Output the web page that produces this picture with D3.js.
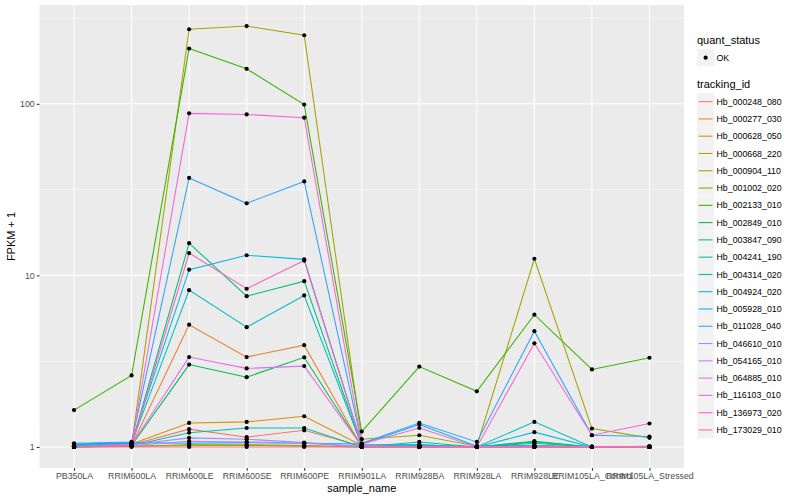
<!DOCTYPE html>
<html>
<head>
<meta charset="utf-8">
<script src="https://cdn.jsdelivr.net/npm/d3@7"></script>
<style>
  body { margin: 0; background: #fff; }
  svg { display: block; font-family: "Liberation Sans", Arial, Helvetica, sans-serif; }
</style>
</head>
<body>
<svg id="chart" width="800" height="500"></svg>
<script>
// ---------------- data ----------------
const samples = ["PB350LA","RRIM600LA","RRIM600LE","RRIM600SE","RRIM600PE","RRIM901LA",
                 "RRIM928BA","RRIM928LA","RRIM928LE","RRIM105LA_Control","RRIM105LA_Stressed"];

const trackingIds = ["Hb_000248_080","Hb_000277_030","Hb_000628_050","Hb_000668_220","Hb_000904_110",
                     "Hb_001002_020","Hb_002133_010","Hb_002849_010","Hb_003847_090","Hb_004241_190",
                     "Hb_004314_020","Hb_004924_020","Hb_005928_010","Hb_011028_040","Hb_046610_010",
                     "Hb_054165_010","Hb_064885_010","Hb_116103_010","Hb_136973_020","Hb_173029_010"];

const seriesColors = ["#F8766D","#EA8331","#D89000","#C09B00","#A3A500","#7CAE00","#39B600","#00BB4E",
                      "#00BF7D","#00C1A3","#00BFC4","#00BAE0","#00B0F6","#35A2FF","#9590FF","#C77CFF",
                      "#E76BF3","#FA62DB","#FF62BC","#FF6C91"];

// FPKM + 1 values, one row per tracking_id, one column per sample
const v000248_080 = [1.01, 1.03, 1.27, 1.14, 1.25, 1.01, 1.01, 1.00, 1.01, 1.00, 1.00];
const v000277_030 = [1.00, 1.02, 5.16, 3.34, 3.92, 1.00, 1.00, 1.00, 1.00, 1.00, 1.00];
const v000628_050 = [1.01, 1.04, 1.38, 1.40, 1.51, 1.02, 1.02, 1.00, 1.02, 1.00, 1.00];
const v000668_220 = [1.00, 1.01, 1.02, 1.02, 1.01, 1.00, 1.00, 1.00, 1.00, 1.00, 1.00];
const v000904_110 = [1.00, 1.02, 272, 284, 251, 1.11, 1.17, 1.01, 12.5, 1.28, 1.13];
const v001002_020 = [1.00, 1.01, 1.03, 1.03, 1.02, 1.00, 1.00, 1.00, 1.00, 1.00, 1.00];
const v002133_010 = [1.64, 2.61, 210, 160, 99, 1.23, 2.94, 2.11, 5.9, 2.83, 3.31];
const v002849_010 = [1.00, 1.02, 3.02, 2.55, 3.33, 1.00, 1.01, 1.00, 1.08, 1.00, 1.00];
const v003847_090 = [1.00, 1.03, 15.4, 7.57, 9.25, 1.01, 1.02, 1.00, 1.07, 1.00, 1.00];
const v004241_190 = [1.01, 1.02, 1.21, 1.29, 1.29, 1.00, 1.07, 1.00, 1.05, 1.00, 1.00];
const v004314_020 = [1.02, 1.05, 8.2, 4.99, 7.64, 1.02, 1.03, 1.00, 1.40, 1.00, 1.00];
const v004924_020 = [1.03, 1.06, 10.8, 13.1, 12.4, 1.03, 1.03, 1.00, 1.22, 1.00, 1.00];
const v005928_010 = [1.04, 1.06, 1.05, 1.06, 1.05, 1.04, 1.35, 1.01, 1.02, 1.00, 1.01];
const v011028_040 = [1.05, 1.07, 37, 26.3, 35.3, 1.05, 1.38, 1.07, 4.73, 1.17, 1.15];
const v046610_010 = [1.00, 1.03, 1.13, 1.11, 1.06, 1.01, 1.01, 1.00, 1.01, 1.00, 1.00];
const v054165_010 = [1.00, 1.02, 1.08, 1.07, 1.05, 1.00, 1.00, 1.00, 1.00, 1.00, 1.00];
const v064885_010 = [1.00, 1.03, 3.34, 2.87, 2.96, 1.01, 1.00, 1.00, 1.00, 1.00, 1.00];
const v116103_010 = [1.00, 1.03, 88, 86.7, 83, 1.04, 1.29, 1.00, 4.02, 1.17, 1.37];
const v136973_020 = [1.00, 1.02, 13.5, 8.36, 12.2, 1.02, 1.00, 1.00, 1.00, 1.00, 1.00];
const v173029_010 = [1.00, 1.00, 1.00, 1.00, 1.00, 1.00, 1.00, 1.00, 1.00, 1.00, 1.00];

const seriesValues = [v000248_080, v000277_030, v000628_050, v000668_220, v000904_110,
                      v001002_020, v002133_010, v002849_010, v003847_090, v004241_190,
                      v004314_020, v004924_020, v005928_010, v011028_040, v046610_010,
                      v054165_010, v064885_010, v116103_010, v136973_020, v173029_010];

const yTicks = [1, 10, 100];
const yTickLabels = ["1", "10", "100"];
const yMinor = [Math.pow(10, 0.5), Math.pow(10, 1.5), Math.pow(10, 2.5)];
const statusLabels = ["OK"];

// ---------------- layout ----------------
const panel = { left: 39.5, right: 684, top: 5, bottom: 468 };
const svg = d3.select("#chart");

const series = trackingIds.map((id, i) => ({
  id, color: seriesColors[i],
  points: samples.map((s, j) => ({ sample: s, value: seriesValues[i][j] }))
}));

const allVals = seriesValues.flat();
const lmin = Math.log10(d3.min(allVals)), lmax = Math.log10(d3.max(allVals));
const ext = (lmax - lmin) * 0.05;

const x = d3.scalePoint().domain(samples).range([panel.left, panel.right]).padding(0.6);
const y = d3.scaleLog().domain([Math.pow(10, lmin - ext), Math.pow(10, lmax + ext)])
  .range([panel.bottom, panel.top]);

// panel background
svg.append("rect").attr("x", panel.left).attr("y", panel.top)
  .attr("width", panel.right - panel.left).attr("height", panel.bottom - panel.top)
  .attr("fill", "#EBEBEB");

// grid
const grid = svg.append("g");
grid.selectAll(".ymin").data(yMinor.filter(v => y(v) >= panel.top)).enter().append("line")
  .attr("x1", panel.left).attr("x2", panel.right)
  .attr("y1", d => y(d)).attr("y2", d => y(d))
  .attr("stroke", "#fff").attr("stroke-width", 0.53);
grid.selectAll(".ymaj").data(yTicks).enter().append("line")
  .attr("x1", panel.left).attr("x2", panel.right)
  .attr("y1", d => y(d)).attr("y2", d => y(d))
  .attr("stroke", "#fff").attr("stroke-width", 1.07);
grid.selectAll(".xmaj").data(samples).enter().append("line")
  .attr("y1", panel.top).attr("y2", panel.bottom)
  .attr("x1", d => x(d)).attr("x2", d => x(d))
  .attr("stroke", "#fff").attr("stroke-width", 1.07);

// lines
const line = d3.line().x(d => x(d.sample)).y(d => y(d.value));
svg.append("g").selectAll("path").data(series).enter().append("path")
  .attr("d", d => line(d.points))
  .attr("fill", "none").attr("stroke", d => d.color).attr("stroke-width", 1.07);

// points
const pts = series.flatMap(s => s.points);
svg.append("g").selectAll("circle").data(pts).enter().append("circle")
  .attr("cx", d => x(d.sample)).attr("cy", d => y(d.value)).attr("r", 2.1)
  .attr("fill", "#000");

// axes
const yAxis = d3.axisLeft(y).tickValues(yTicks).tickFormat((d, i) => yTickLabels[i])
  .tickSize(2.74).tickPadding(2);
const gy = svg.append("g").attr("transform", `translate(${panel.left},0)`).call(yAxis);
gy.select(".domain").remove();
gy.selectAll(".tick line").attr("stroke", "#333").attr("stroke-width", 1.07);
gy.selectAll(".tick text").attr("fill", "#4D4D4D").style("font-size", "8.8px")
  .style("font-family", "'Liberation Sans', Arial, sans-serif");

const xAxis = d3.axisBottom(x).tickSize(2.74).tickPadding(2);
const gx = svg.append("g").attr("transform", `translate(0,${panel.bottom})`).call(xAxis);
gx.select(".domain").remove();
gx.selectAll(".tick line").attr("stroke", "#333").attr("stroke-width", 1.07);
gx.selectAll(".tick text").attr("fill", "#4D4D4D").style("font-size", "8.8px")
  .style("font-family", "'Liberation Sans', Arial, sans-serif");

// axis titles
svg.append("text").attr("x", (panel.left + panel.right) / 2).attr("y", 492)
  .attr("text-anchor", "middle").style("font-size", "11px").attr("fill", "#000")
  .text("sample_name");
svg.append("text").attr("transform", `translate(15,${(panel.top + panel.bottom) / 2}) rotate(-90)`)
  .attr("text-anchor", "middle").style("font-size", "11px").attr("fill", "#000")
  .text("FPKM + 1");

// legends
const lg = svg.append("g").attr("transform", "translate(697,0)");
lg.append("text").attr("x", 0).attr("y", 44).style("font-size", "11px").text("quant_status");
statusLabels.forEach((lab, i) => {
  const ky = 49 + i * 17.28;
  lg.append("rect").attr("x", 0).attr("y", ky).attr("width", 17.28).attr("height", 17.28).attr("fill", "#F2F2F2");
  lg.append("circle").attr("cx", 8.64).attr("cy", ky + 8.64).attr("r", 2.1).attr("fill", "#000");
  lg.append("text").attr("x", 19.5).attr("y", ky + 8.64).attr("dy", "0.35em")
    .style("font-size", "8.8px").text(lab);
});

lg.append("text").attr("x", 0).attr("y", 88).style("font-size", "11px").text("tracking_id");
const items = lg.selectAll(".item").data(series).enter().append("g")
  .attr("transform", (d, i) => `translate(0,${93 + i * 17.28})`);
items.append("rect").attr("width", 17.28).attr("height", 17.28).attr("fill", "#F2F2F2");
items.append("line").attr("x1", 1.7).attr("x2", 15.5).attr("y1", 8.64).attr("y2", 8.64)
  .attr("stroke", d => d.color).attr("stroke-width", 1.07);
items.append("text").attr("x", 19.5).attr("y", 8.64).attr("dy", "0.35em")
  .style("font-size", "8.8px").text(d => d.id);
</script>
</body>
</html>
